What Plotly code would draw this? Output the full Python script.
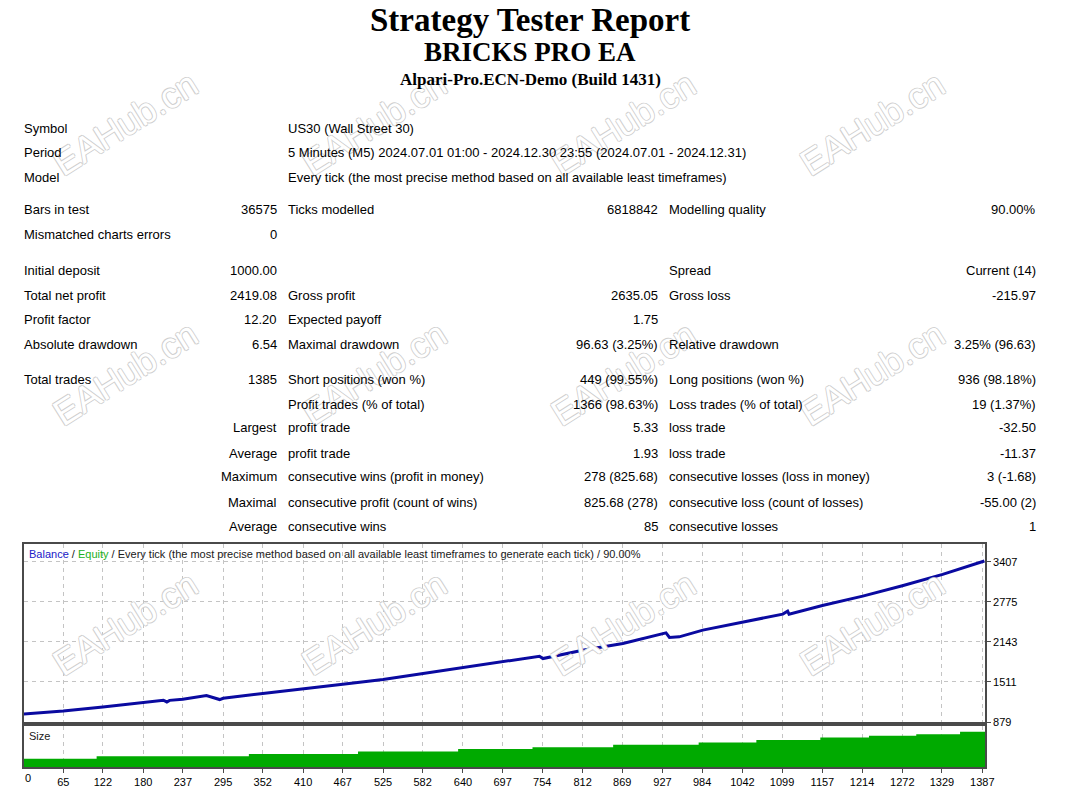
import plotly.graph_objects as go

# ---- report text ----
title_lines = ["Strategy Tester Report", "BRICKS PRO EA", "Alpari-Pro.ECN-Demo (Build 1431)"]

table_rows = [
    ["Symbol", "", "US30 (Wall Street 30)", "", "", ""],
    ["Period", "", "5 Minutes (M5) 2024.07.01 01:00 - 2024.12.30 23:55 (2024.07.01 - 2024.12.31)", "", "", ""],
    ["Model", "", "Every tick (the most precise method based on all available least timeframes)", "", "", ""],
    ["Bars in test", "36575", "Ticks modelled", "6818842", "Modelling quality", "90.00%"],
    ["Mismatched charts errors", "0", "", "", "", ""],
    ["Initial deposit", "1000.00", "", "", "Spread", "Current (14)"],
    ["Total net profit", "2419.08", "Gross profit", "2635.05", "Gross loss", "-215.97"],
    ["Profit factor", "12.20", "Expected payoff", "1.75", "", ""],
    ["Absolute drawdown", "6.54", "Maximal drawdown", "96.63 (3.25%)", "Relative drawdown", "3.25% (96.63)"],
    ["Total trades", "1385", "Short positions (won %)", "449 (99.55%)", "Long positions (won %)", "936 (98.18%)"],
    ["", "", "Profit trades (% of total)", "1366 (98.63%)", "Loss trades (% of total)", "19 (1.37%)"],
    ["", "Largest", "profit trade", "5.33", "loss trade", "-32.50"],
    ["", "Average", "profit trade", "1.93", "loss trade", "-11.37"],
    ["", "Maximum", "consecutive wins (profit in money)", "278 (825.68)", "consecutive losses (loss in money)", "3 (-1.68)"],
    ["", "Maximal", "consecutive profit (count of wins)", "825.68 (278)", "consecutive loss (count of losses)", "-55.00 (2)"],
    ["", "Average", "consecutive wins", "85", "consecutive losses", "1"],
]

chart_caption = "Every tick (the most precise method based on all available least timeframes to generate each tick) / 90.00%"

# ---- balance curve (trade number -> balance) ----
trade_no = [0, 65, 122, 180, 209, 214, 218, 237, 271, 290, 295, 352, 410, 467, 525, 582,
            640, 697, 750, 755, 812, 870, 927, 932, 937, 951, 985, 1042, 1100, 1107, 1109,
            1157, 1215, 1272, 1330, 1390]
balance = [1000, 1053, 1116, 1179, 1222, 1195, 1220, 1238, 1296, 1233, 1253, 1328, 1407, 1475, 1549, 1644,
           1738, 1827, 1917, 1880, 2012, 2118, 2265, 2285, 2212, 2222, 2328, 2449, 2581, 2628, 2581,
           2718, 2865, 3028, 3208, 3419.08]

# ---- lot size steps ----
lot_trade = [0, 113, 332, 489, 633, 740, 856, 979, 1062, 1154, 1224, 1292, 1355, 1391]
lot_size = [0.10, 0.13, 0.16, 0.19, 0.22, 0.24, 0.27, 0.30, 0.33, 0.36, 0.38, 0.40, 0.43, 0.43]

x_ticks = [0, 65, 122, 180, 237, 295, 352, 410, 467, 525, 582, 640, 697, 754, 812, 869,
           927, 984, 1042, 1099, 1157, 1214, 1272, 1329, 1387]
y_ticks = [879, 1511, 2143, 2775, 3407]

# reference picture size (positions below are in its pixels)
W, H = 1070, 788


def px(x):
    return x / W


def py(y):
    return 1 - y / H


row_y = [128, 153, 177, 210, 235, 270, 295, 319, 344, 379, 404, 428, 453, 477, 502, 526]
col_x = [23, 278, 287, 660, 669, 1038]
col_anchor = ["left", "right", "left", "right", "left", "right"]

x_range = [8.5, 1391]
grid = dict(showgrid=True, gridcolor="#c4c4c4", griddash="4px,4px", gridwidth=1)
frame = dict(showline=True, mirror=True, linecolor="#4a4a4a", linewidth=1.5, zeroline=False)
tickfont = dict(family="Liberation Sans", size=11, color="#000")

fig = go.Figure()
fig.add_trace(go.Scatter(x=lot_trade, y=lot_size, xaxis="x", yaxis="y", mode="lines",
                         line=dict(shape="hv", width=0, color="#00aa00"),
                         fill="tozeroy", fillcolor="#00aa00", hoverinfo="skip", showlegend=False))
fig.add_trace(go.Scatter(x=trade_no, y=balance, xaxis="x2", yaxis="y2", mode="lines",
                         line=dict(color="#0a0aa0", width=3), name="Balance", showlegend=False))

annotations = []

# watermarks
for wy in [123, 373, 623]:
    for wx in [125, 374, 624, 873]:
        annotations.append(dict(x=px(wx), y=py(wy), xref="paper", yref="paper", text="EAHub.cn",
                                showarrow=False, textangle=-32, xanchor="center", yanchor="middle",
                                font=dict(family="Liberation Sans", size=36, color="#ffffff",
                                          shadow="1px 0 0 #cfcfcf, -1px 0 0 #cfcfcf, 0 1px 0 #cfcfcf, 0 -1px 0 #cfcfcf")))

# titles
for text, yy, size in zip(title_lines, [20, 52, 79], [33, 27, 17]):
    annotations.append(dict(x=0.496, y=py(yy), xref="paper", yref="paper", text="<b>%s</b>" % text,
                            showarrow=False, xanchor="center", yanchor="middle",
                            font=dict(family="Liberation Serif", size=size, color="#000")))

# table
for row, yy in zip(table_rows, row_y):
    for cell, cx, anc in zip(row, col_x, col_anchor):
        if not cell:
            continue
        annotations.append(dict(x=px(cx), y=py(yy), xref="paper", yref="paper", text=cell,
                                showarrow=False, xanchor=anc, yanchor="middle", borderpad=0,
                                font=dict(family="Liberation Sans", size=13, color="#000")))

# chart captions
annotations.append(dict(x=px(28), y=py(554), xref="paper", yref="paper", showarrow=False,
                        xanchor="left", yanchor="middle", borderpad=0,
                        text="<span style='color:#2020c8'>Balance</span> / "
                             "<span style='color:#20b020'>Equity</span> / " + chart_caption,
                        font=dict(family="Liberation Sans", size=11, color="#202020")))
annotations.append(dict(x=px(28), y=py(736), xref="paper", yref="paper", showarrow=False,
                        xanchor="left", yanchor="middle", borderpad=0, text="Size",
                        font=dict(family="Liberation Sans", size=11, color="#202020")))
annotations.append(dict(x=x_range[0], y=py(778), xref="x", yref="paper", showarrow=False,
                        xanchor="left", yanchor="middle", borderpad=0, text=str(x_ticks[0]),
                        font=tickfont))

# page comes out slightly shrunk in the screenshot, so size up a little
fig.update_layout(
    width=1078, height=794,
    margin=dict(l=0, r=0, t=0, b=0),
    paper_bgcolor="white", plot_bgcolor="white",
    xaxis=dict(domain=[px(24), px(986)], range=x_range, anchor="y",
               tickmode="array", tickvals=x_ticks[1:], ticktext=[str(v) for v in x_ticks[1:]],
               ticks="outside", ticklen=4, tickcolor="#4a4a4a", tickfont=tickfont, **grid, **frame),
    xaxis2=dict(domain=[px(24), px(986)], range=x_range, anchor="y2", matches="x",
                tickmode="array", tickvals=x_ticks[1:], showticklabels=False, **grid, **frame),
    yaxis=dict(domain=[py(767), py(726)], range=[0, 0.5], anchor="x",
               showticklabels=False, showgrid=False, **frame),
    yaxis2=dict(domain=[py(722), py(544)], range=[879, 3687], anchor="x2", side="right",
                tickmode="array", tickvals=y_ticks, ticks="outside", ticklen=4, tickcolor="#4a4a4a",
                tickfont=tickfont, **grid, **frame),
    annotations=annotations,
    showlegend=False,
)

fig.write_html("out.html", config={"displayModeBar": False},
               post_script="document.body.style.margin='0';")
